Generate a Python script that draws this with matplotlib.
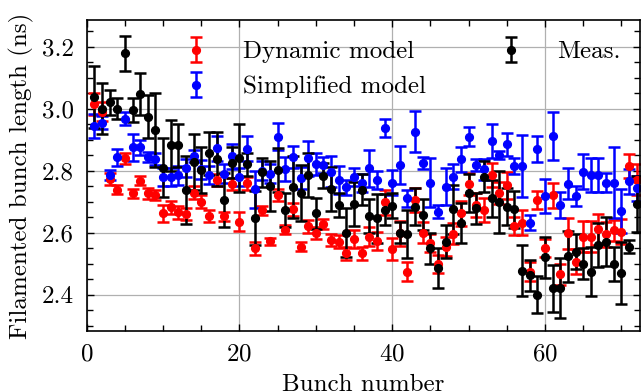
import numpy as np
import matplotlib
matplotlib.use("Agg")
import matplotlib.pyplot as plt

plt.rcParams['font.family'] = ['cmr10', 'DejaVu Serif']
plt.rcParams['mathtext.fontset'] = 'cm'
plt.rcParams['axes.formatter.use_mathtext'] = True
plt.rcParams['axes.unicode_minus'] = False

#%%---------------------------------------- datos
bunch = np.arange(1, 73)

dyn = [3.015, 2.99, 2.772, 2.738, 2.84, 2.727, 2.768, 2.727, 2.721, 2.662,
       2.681, 2.665, 2.66, 2.729, 2.70, 2.654, 2.77, 2.652, 2.757, 2.635,
       2.759, 2.549, 2.672, 2.572, 2.722, 2.61, 2.675, 2.555, 2.62, 2.598,
       2.628, 2.576, 2.571, 2.533, 2.579, 2.533, 2.587, 2.573, 2.698, 2.546,
       2.598, 2.474, 2.705, 2.60, 2.566, 2.499, 2.555, 2.597, 2.662, 2.756,
       2.689, 2.673, 2.786, 2.727, 2.752, 2.621, 2.632, 2.474, 2.705, 2.55,
       2.72, 2.465, 2.598, 2.506, 2.587, 2.587, 2.611, 2.595, 2.607, 2.603,
       2.815, 2.77]
dyn_err = [.035, .03, .02, .015, .018, .015, .016, .018, .016, .027,
           .02, .02, .02, .02, .02, .02, .02, .015, .02, .03,
           .02, .02, .015, .012, .02, .015, .02, .015, .02, .02,
           .015, .02, .02, .02, .03, .02, .03, .03, .04, .035,
           .04, .03, .04, .035, .03, .03, .03, .035, .04, .035,
           .04, .04, .04, .035, .045, .03, .04, .03, .03, .03,
           .04, .035, .05, .04, .05, .05, .05, .04, .035, .04,
           .04, .05]

simp = [2.944, 2.955, 2.786, 2.843, 2.968, 2.875, 2.875, 2.843, 2.838, 2.779,
        2.779, 2.785, 2.808, 2.847, 2.804, 2.786, 2.872, 2.79, 2.846, 2.78,
        2.871, 2.74, 2.80, 2.79, 2.91, 2.805, 2.844, 2.777, 2.84, 2.821,
        2.818, 2.796, 2.77, 2.746, 2.779, 2.76, 2.808, 2.77, 2.937, 2.761,
        2.818, 2.711, 2.926, 2.824, 2.761, 2.668, 2.748, 2.78, 2.837, 2.91,
        2.818, 2.804, 2.896, 2.85, 2.885, 2.815, 2.815, 2.632, 2.87, 2.718,
        2.912, 2.689, 2.757, 2.718, 2.797, 2.786, 2.786, 2.761, 2.761, 2.67,
        2.765, 2.743]
simp_err = [.04, .02, .015, .028, .021, .044, .025, .016, .02, .03,
            .03, .03, .03, .02, .03, .03, .04, .03, .04, .03,
            .04, .06, .03, .03, .045, .04, .035, .035, .057, .035,
            .025, .05, .045, .025, .03, .03, .06, .03, .03, .04,
            .06, .027, .066, .02, .08, .02, .06, .04, .04, .03,
            .02, .035, .055, .012, .037, .025, .1, .025, .043, .055,
            .078, .043, .05, .032, .057, .054, .056, .03, .115, .07,
            .04, .04]

meas = [3.037, 3.00, 3.021, 3.00, 3.178, 2.996, 3.047, 2.974, 2.931, 2.81,
        2.882, 2.882, 2.738, 2.829, 2.802, 2.856, 2.837, 2.705, 2.826, 2.84,
        2.82, 2.646, 2.794, 2.75, 2.802, 2.673, 2.746, 2.727, 2.786, 2.662,
        2.783, 2.741, 2.689, 2.60, 2.692, 2.738, 2.654, 2.646, 2.673, 2.687,
        2.60, 2.595, 2.684, 2.657, 2.549, 2.485, 2.571, 2.675, 2.632, 2.727,
        2.678, 2.781, 2.711, 2.70, 2.684, 2.675, 2.477, 2.463, 2.399, 2.52,
        2.42, 2.42, 2.523, 2.539, 2.499, 2.474, 2.56, 2.571, 2.499, 2.469,
        2.555, 2.692]
meas_err = [.1, .083, .04, .035, .055, .039, .067, .07, .118, .094,
            .082, .07, .11, .09, .073, .07, .086, .087, .05, .11,
            .036, .087, .047, .08, .07, .054, .1, .09, .07, .05,
            .04, .07, .04, .078, .07, .05, .055, .08, .05, .04,
            .035, .077, .06, .05, .05, .065, .054, .08, .065, .062,
            .05, .05, .06, .1, .06, .06, .083, .05, .06, .065,
            .075, .097, .083, .057, .05, .08, .07, .08, .055, .1,
            .02, .09]

#%%---------------------------------------- figura
fig = plt.figure(figsize=(6.42, 3.92), dpi=100)
ax = fig.add_axes([0.135, 0.156, 0.862, 0.793])

estilo = dict(fmt='o', ms=5.6, elinewidth=1.8, capsize=4.2, capthick=1.8)
ax.errorbar(bunch, dyn, yerr=dyn_err, color='red', label='Dynamic model', **estilo)
ax.errorbar(bunch, simp, yerr=simp_err, color='blue', label='Simplified model', **estilo)
ax.errorbar(bunch, meas, yerr=meas_err, color='black', label='Meas.', **estilo)

ax.set_xlim(0, 72.45)
ax.set_ylim(2.283, 3.286)
ax.set_xticks([0, 20, 40, 60])
ax.set_xticks(np.arange(0, 75, 5), minor=True)
ax.set_yticks([2.4, 2.6, 2.8, 3.0, 3.2])
ax.set_yticks(np.arange(2.3, 3.3, 0.05), minor=True)
ax.set_yticklabels(['2.4', '2.6', '2.8', '3.0', '3.2'])
ax.tick_params(which='both', direction='in', top=True, right=True,
               labelsize=18, width=1.0)
ax.tick_params(which='major', length=5, pad=9)
ax.tick_params(which='minor', length=4)
ax.grid(True, which='major', color='#b0b0b0', lw=0.9)
ax.set_axisbelow(True)
for s in ax.spines.values():
    s.set_linewidth(1.2)

ax.set_xlabel('Bunch number', fontsize=18, labelpad=6)
ax.set_ylabel('Filamented bunch length (ns)', fontsize=18, labelpad=6)

ax.legend(loc='upper left', bbox_to_anchor=(0.135, 0.965), ncol=2,
          frameon=False, fontsize=18, labelspacing=0.5, columnspacing=2.4,
          handletextpad=0.85, borderaxespad=0)

fig.savefig('out.png', dpi=100)
